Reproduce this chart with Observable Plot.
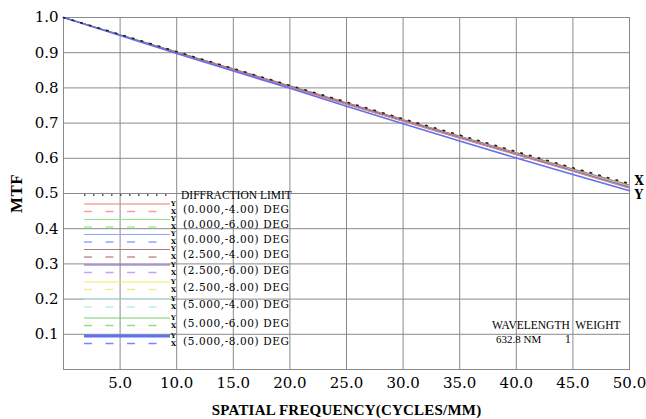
<!DOCTYPE html>
<html>
<head>
<meta charset="utf-8">
<script src="https://cdn.jsdelivr.net/npm/d3@7"></script>
<script src="https://cdn.jsdelivr.net/npm/@observablehq/plot@0.6"></script>
<style>
  html, body { margin: 0; padding: 0; background: #fff; }
  #wrap { position: relative; width: 646px; height: 419px; overflow: hidden; }
  #wrap > svg { position: absolute; left: 0; top: 0; }
  g[aria-label="x-axis label"] text {
    font-weight: bold; font-size: 15px; font-family: 'Liberation Serif', serif; letter-spacing: 0.2px;
  }
  g[aria-label="y-axis label"] text {
    font-weight: bold; font-size: 17px; font-family: 'Liberation Serif', serif; letter-spacing: 0.4px;
  }
  #legend { position: absolute; left: 0; top: 0; pointer-events: none; }
</style>
</head>
<body>
<div id="wrap"></div>
<script>
// ---- data ----
const freq = [0, 5, 10, 15, 20, 25, 30, 35, 40, 45, 50];
const xTicks = [5, 10, 15, 20, 25, 30, 35, 40, 45, 50];
const yTicks = [0.1, 0.2, 0.3, 0.4, 0.5, 0.6, 0.7, 0.8, 0.9, 1.0];
const diffraction = [1.000, 0.952, 0.903, 0.855, 0.807, 0.760, 0.712, 0.666, 0.619, 0.573, 0.528];

const fieldLabels = ["(0.000,-4.00) DEG", "(0.000,-6.00) DEG", "(0.000,-8.00) DEG",
                     "(2.500,-4.00) DEG", "(2.500,-6.00) DEG", "(2.500,-8.00) DEG",
                     "(5.000,-4.00) DEG", "(5.000,-6.00) DEG", "(5.000,-8.00) DEG"];

// tangential (solid) and sagittal (dashed) MTF per field
const tan_0_4   = [1.000, 0.950, 0.900, 0.851, 0.802, 0.753, 0.705, 0.657, 0.610, 0.563, 0.515];
const sag_0_4   = [1.000, 0.951, 0.902, 0.854, 0.806, 0.758, 0.710, 0.663, 0.616, 0.570, 0.524];
const tan_0_6   = [1.000, 0.951, 0.902, 0.853, 0.805, 0.757, 0.709, 0.662, 0.615, 0.568, 0.522];
const sag_0_6   = [1.000, 0.951, 0.902, 0.854, 0.806, 0.758, 0.710, 0.663, 0.616, 0.570, 0.524];
const tan_0_8   = [1.000, 0.950, 0.901, 0.852, 0.803, 0.755, 0.707, 0.659, 0.612, 0.565, 0.518];
const sag_0_8   = [1.000, 0.951, 0.902, 0.853, 0.805, 0.757, 0.709, 0.662, 0.615, 0.568, 0.522];
const tan_25_4  = [1.000, 0.951, 0.902, 0.854, 0.806, 0.758, 0.710, 0.663, 0.616, 0.570, 0.524];
const sag_25_4  = [1.000, 0.951, 0.902, 0.854, 0.806, 0.758, 0.710, 0.663, 0.616, 0.570, 0.524];
const tan_25_6  = [1.000, 0.950, 0.901, 0.852, 0.803, 0.755, 0.707, 0.659, 0.612, 0.565, 0.518];
const sag_25_6  = [1.000, 0.951, 0.902, 0.853, 0.805, 0.757, 0.709, 0.662, 0.615, 0.568, 0.522];
const tan_25_8  = [1.000, 0.951, 0.902, 0.853, 0.805, 0.757, 0.709, 0.662, 0.615, 0.568, 0.522];
const sag_25_8  = [1.000, 0.951, 0.902, 0.854, 0.806, 0.758, 0.710, 0.663, 0.616, 0.570, 0.524];
const tan_5_4   = [1.000, 0.950, 0.901, 0.852, 0.803, 0.755, 0.707, 0.659, 0.612, 0.565, 0.518];
const sag_5_4   = [1.000, 0.951, 0.902, 0.854, 0.806, 0.758, 0.710, 0.663, 0.616, 0.570, 0.524];
const tan_5_6   = [1.000, 0.950, 0.900, 0.851, 0.802, 0.753, 0.705, 0.657, 0.610, 0.563, 0.515];
const sag_5_6   = [1.000, 0.951, 0.902, 0.853, 0.805, 0.757, 0.709, 0.662, 0.615, 0.568, 0.522];
const tan_5_8   = [1.000, 0.949, 0.898, 0.848, 0.799, 0.748, 0.698, 0.649, 0.601, 0.554, 0.508];
const sag_5_8   = [1.000, 0.950, 0.901, 0.852, 0.803, 0.755, 0.707, 0.659, 0.612, 0.565, 0.518];

const tanSeries = [tan_0_4, tan_0_6, tan_0_8, tan_25_4, tan_25_6, tan_25_8, tan_5_4, tan_5_6, tan_5_8];
const sagSeries = [sag_0_4, sag_0_6, sag_0_8, sag_25_4, sag_25_6, sag_25_8, sag_5_4, sag_5_6, sag_5_8];

// ---- styles ----
const tanColors = ["#f07c7c", "#8fe68a", "#8fa8f5", "#b07a7a", "#8a58cc", "#eeee66", "#9eeadb", "#74d070", "#5f70f0"];
const sagColors = ["#f29c9c", "#a8eea0", "#8fa8f5", "#c49494", "#cc9cff", "#eeee88", "#b8f0e6", "#92dc90", "#7a88f0"];
const tanWidths = [1, 1, 1, 1, 1, 1, 1, 1, 1.6];
const dash = "8 13.5";
// drawing order: pale colours first, brown/pink/blue on top
const drawOrder = [5, 6, 1, 7, 2, 4, 0, 3, 8];

const rows = [];
fieldLabels.forEach((f, i) => {
  freq.forEach((x, j) => {
    rows.push({field: i, kind: "T", x, y: tanSeries[i][j]});
    rows.push({field: i, kind: "S", x, y: sagSeries[i][j]});
  });
});
const diffRows = freq.map((x, j) => ({x, y: diffraction[j]}));

const lineMarks = [];
drawOrder.forEach(i => {
  lineMarks.push(Plot.line(rows.filter(d => d.field === i && d.kind === "S"),
    {x: "x", y: "y", stroke: sagColors[i], strokeWidth: 1, strokeDasharray: dash}));
});
drawOrder.forEach(i => {
  lineMarks.push(Plot.line(rows.filter(d => d.field === i && d.kind === "T"),
    {x: "x", y: "y", stroke: tanColors[i], strokeWidth: tanWidths[i]}));
});

const last = freq.length - 1;
const endLabels = [
  {x: freq[last], y: sag_5_4[last], t: "X"},
  {x: freq[last], y: tan_5_8[last], t: "Y"}
];

const plot = Plot.plot({
  width: 646,
  height: 419,
  marginLeft: 63,
  marginRight: 17,
  marginTop: 17,
  marginBottom: 50,
  style: {fontFamily: "'DejaVu Serif', serif", fontSize: "15px", color: "#000", background: "#fff"},
  x: {domain: [0, 50]},
  y: {domain: [0, 1]},
  marks: [
    Plot.gridX(xTicks.slice(0, -1), {stroke: "#8a8a8a", strokeOpacity: 1}),
    Plot.gridY(yTicks.slice(0, -1), {stroke: "#8a8a8a", strokeOpacity: 1}),
    Plot.frame({stroke: "#8a8a8a"}),
    ...lineMarks,
    Plot.line(diffRows, {x: "x", y: "y", stroke: "#222", strokeWidth: 1.6, strokeDasharray: "1.6 7.4"}),
    Plot.text(endLabels.slice(0, 1), {x: "x", y: "y", text: "t", dx: 5, dy: -4, textAnchor: "start", fontWeight: "bold", fontSize: 12}),
    Plot.text(endLabels.slice(1), {x: "x", y: "y", text: "t", dx: 5, dy: 4, textAnchor: "start", fontWeight: "bold", fontSize: 12}),
    Plot.axisX(xTicks, {tickSize: 0, tickPadding: 8, tickFormat: d3.format(".1f"),
      label: "SPATIAL FREQUENCY(CYCLES/MM)", labelAnchor: "center", labelOffset: 45, labelArrow: false}),
    Plot.axisY(yTicks, {tickSize: 0, tickPadding: 5, tickFormat: d3.format(".1f"),
      label: "MTF", labelAnchor: "center", labelOffset: 54, labelArrow: false})
  ]
});
document.getElementById("wrap").appendChild(plot);

// ---- legend overlay ----
const leg = d3.select("#wrap").append("svg").attr("id", "legend").attr("width", 646).attr("height", 419);
const lx0 = 84, lx1 = 170;
leg.append("line").attr("x1", lx0).attr("x2", lx1).attr("y1", 195).attr("y2", 195)
  .attr("stroke", "#333").attr("stroke-width", 1.5).attr("stroke-dasharray", "1.5 7.5");
leg.append("text").attr("x", 181).attr("y", 195).attr("dy", "0.35em")
  .attr("font-family", "'Liberation Serif', serif").attr("font-size", 11.5).text("DIFFRACTION LIMIT");
const rowY = [204, 219.5, 234.5, 249.5, 265, 282, 299.5, 318, 336];
fieldLabels.forEach((lab, i) => {
  const y = rowY[i];
  leg.append("line").attr("x1", lx0).attr("x2", lx1).attr("y1", y).attr("y2", y)
    .attr("stroke", tanColors[i]).attr("stroke-width", i === 8 ? 3 : 1.2);
  leg.append("line").attr("x1", lx0).attr("x2", lx1).attr("y1", y + 7.5).attr("y2", y + 7.5)
    .attr("stroke", sagColors[i]).attr("stroke-width", 1.5).attr("stroke-dasharray", dash);
  leg.append("text").attr("x", 171).attr("y", y - 0.5).attr("dy", "0.35em")
    .attr("font-family", "'DejaVu Serif', serif").attr("font-size", 6.5).attr("font-weight", "bold").text("Y");
  leg.append("text").attr("x", 171).attr("y", y + 7.5).attr("dy", "0.35em")
    .attr("font-family", "'DejaVu Serif', serif").attr("font-size", 6.5).attr("font-weight", "bold").text("X");
  leg.append("text").attr("x", 183).attr("y", y + 5).attr("dy", "0.35em")
    .attr("font-family", "'DejaVu Serif', serif").attr("font-size", 10.5).attr("letter-spacing", "0.6px").text(lab);
});
leg.append("text").attr("x", 492).attr("y", 325).attr("dy", "0.35em")
  .attr("font-family", "'Liberation Serif', serif").attr("font-size", 11.5).attr("xml:space", "preserve")
  .text("WAVELENGTH  WEIGHT");
leg.append("text").attr("x", 496).attr("y", 339).attr("dy", "0.35em")
  .attr("font-family", "'Liberation Serif', serif").attr("font-size", 11).text("632.8 NM");
leg.append("text").attr("x", 565).attr("y", 339).attr("dy", "0.35em")
  .attr("font-family", "'Liberation Serif', serif").attr("font-size", 11.5).text("1");
</script>
</body>
</html>
